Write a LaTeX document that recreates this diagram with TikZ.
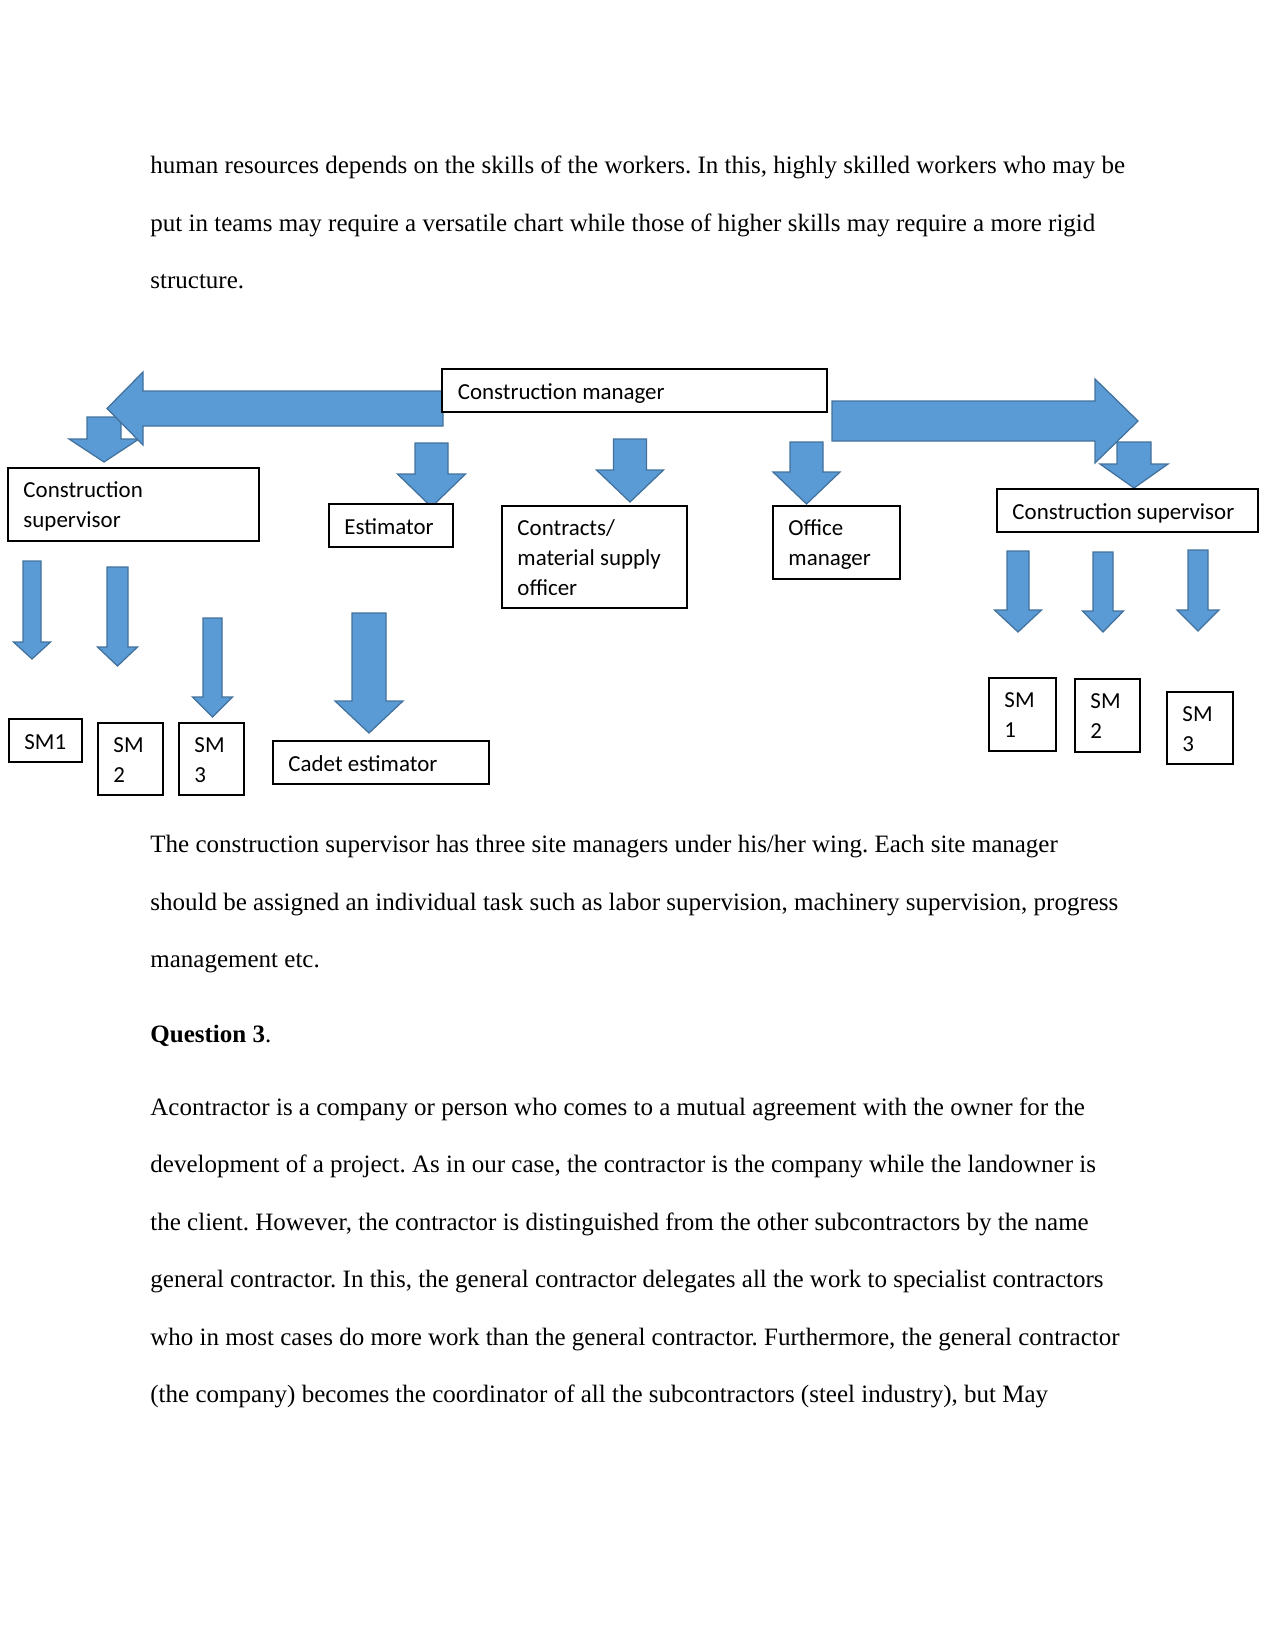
\documentclass[tikz,border=0pt]{standalone}
\usepackage{fontspec}
\setmainfont{Liberation Serif}
\newfontfamily\boxfont{Carlito}
\usepackage{tikz}
\usetikzlibrary{fit}

\definecolor{arrowfill}{HTML}{5B9BD5}
\definecolor{arrowedge}{HTML}{41719C}

\frenchspacing

\begin{document}
\begin{tikzpicture}[
        x=0.48pt,
        y=-0.48pt,
        line join=miter,
        box/.style={draw=black, fill=white, inner sep=0pt, line width=0.9pt},
        thinbox/.style={box, line width=0.6pt},
        blockarrow/.style={fill=arrowfill, draw=arrowedge, line width=0.6pt},
        lbl/.style={font=\boxfont\fontsize{11}{14.2}\selectfont, anchor=base west, align=left, inner sep=0pt},
        body/.style={font=\fontsize{12}{14}\selectfont, anchor=base west, inner sep=0pt}
    ]

    \useasboundingbox (0,0) rectangle (1275,1651);

    \foreach \ty/\txt [count=\i] in {
        173.5/{human resources depends on the skills of the workers. In this, highly skilled workers who may be},
        231.5/{put in teams may require a versatile chart while those of higher skills may require a more rigid},
        288.5/{structure.}
    } {
        \node[body] (top\i) at (150,\ty) {\txt};
    }

    % small arrow under the left head, then the two wide arrows
    \draw[blockarrow] (87,417) -- (121,417) -- (121,439) -- (139,439) -- (104,462)
        -- (69,439) -- (87,439) -- cycle;
    \draw[blockarrow] (443,391) -- (143,391) -- (143,372) -- (107,408.5)
        -- (143,445) -- (143,426) -- (443,426) -- cycle;
    \draw[blockarrow] (832,401) -- (1095,401) -- (1095,379) -- (1138,421)
        -- (1095,463) -- (1095,441) -- (832,441) -- cycle;

    \foreach \cx/\sw/\hw/\ay/\hy/\py in {
        1134/17/34/442/464/488,
        431.5/16.5/34/443/474/507,
        630/16.5/33.5/439/470/502,
        806.5/16.5/33.5/442/472/504,
        32/9/18.5/561/642/659,
        117.5/10.5/20/567/647/666,
        212.5/9.5/20/618/697/717,
        369/17/34/613/701/733,
        1018/11/23.5/551/610/632,
        1103/10/20.5/552/611/632,
        1198/10/21/550/610/631
    } {
        \draw[blockarrow] (\cx-\sw,\ay) -- (\cx+\sw,\ay) -- (\cx+\sw,\hy) -- (\cx+\hw,\hy)
            -- (\cx,\py) -- (\cx-\hw,\hy) -- (\cx-\sw,\hy) -- cycle;
    }

    \node[thinbox, fit={(442,369) (827,412)}] (cm) {};
    \foreach \nm/\lx/\ty/\rx/\by in {
        supl/8/468/259/541,
        est/329/504/453/547,
        contr/502/506/687/608,
        office/773/506/900/579,
        supr/997/489/1258/532,
        sml1/9/719/82/762,
        sml2/98/723/163/795,
        sml3/179/723/244/795,
        cadet/273/741/489/784,
        smr1/989/678/1056/751,
        smr2/1075/679/1140/752,
        smr3/1167/692/1233/764
    } {
        \node[box, fit={(\lx,\ty) (\rx,\by)}] (\nm) {};
    }

    % base of a node with several lines sits on its last line
    \node[lbl] (cm-lbl) at ([shift={(16,31)}]cm.north west) {Construction manager};
    \node[lbl] (supl-lbl) at ([shift={(16,60.5)}]supl.north west) {Construction\\supervisor};
    \node[lbl] (est-lbl) at ([shift={(16,31)}]est.north west) {Estimator};
    \node[lbl] (contr-lbl) at ([shift={(16,90)}]contr.north west) {Contracts/\\material supply\\officer};
    \node[lbl] (office-lbl) at ([shift={(16,60.5)}]office.north west) {Office\\manager};
    \node[lbl] (supr-lbl) at ([shift={(16,31)}]supr.north west) {Construction supervisor};
    \node[lbl] (sml1-lbl) at ([shift={(16,31)}]sml1.north west) {SM1};
    \node[lbl] (sml2-lbl) at ([shift={(16,60.5)}]sml2.north west) {SM\\2};
    \node[lbl] (sml3-lbl) at ([shift={(16,60.5)}]sml3.north west) {SM\\3};
    \node[lbl] (cadet-lbl) at ([shift={(16,31)}]cadet.north west) {Cadet estimator};
    \node[lbl] (smr1-lbl) at ([shift={(16,60.5)}]smr1.north west) {SM\\1};
    \node[lbl] (smr2-lbl) at ([shift={(16,60.5)}]smr2.north west) {SM\\2};
    \node[lbl] (smr3-lbl) at ([shift={(16,60.5)}]smr3.north west) {SM\\3};

    \foreach \ty/\txt [count=\i] in {
        852/{The construction supervisor has three site managers under his/her wing. Each site manager},
        910/{should be assigned an individual task such as labor supervision, machinery supervision, progress},
        967/{management etc.},
        1042/{\textbf{Question 3}.},
        1115/{Acontractor is a company or person who comes to a mutual agreement with the owner for the},
        1172/{development of a project. As in our case, the contractor is the company while the landowner is},
        1230/{the client. However, the contractor is distinguished from the other subcontractors by the name},
        1287/{general contractor. In this, the general contractor delegates all the work to specialist contractors},
        1345/{who in most cases do more work than the general contractor. Furthermore, the general contractor},
        1402/{(the company) becomes the coordinator of all the subcontractors (steel industry), but May}
    } {
        \node[body] (bot\i) at (150,\ty) {\txt};
    }

\end{tikzpicture}
\end{document}
